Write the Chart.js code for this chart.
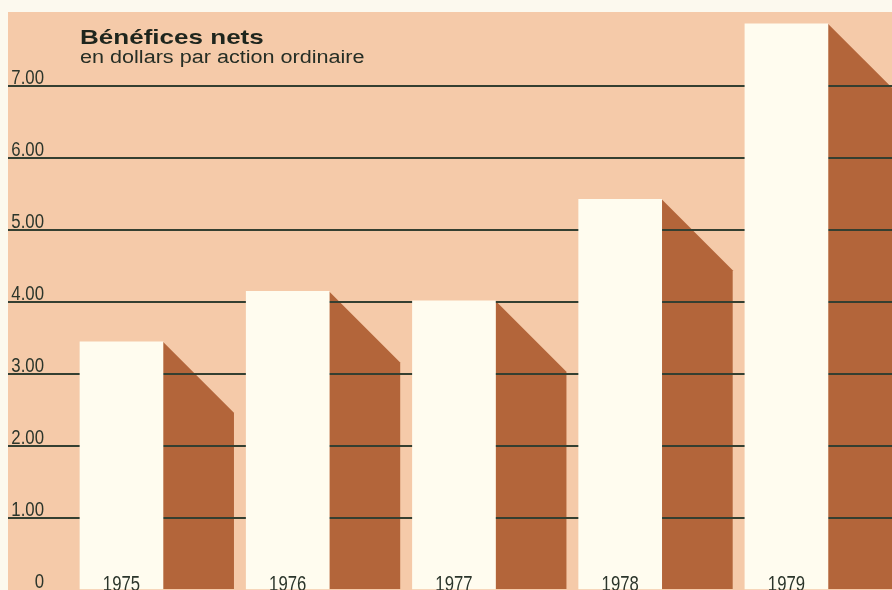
<!DOCTYPE html>
<html lang="fr">
<head>
<meta charset="utf-8">
<title>Bénéfices nets</title>
<script src="https://cdn.jsdelivr.net/npm/chart.js@4.4.1/dist/chart.umd.min.js"></script>
<style>
  html, body { margin:0; padding:0; background:#fcf9ee; }
  #wrap { position:relative; width:892px; height:590px; overflow:hidden; }
  #chart { position:absolute; left:0; top:0; }
  .title, .subtitle { position:absolute; left:80px; white-space:nowrap; transform-origin:0 0; font-family:'Liberation Sans', Arial, sans-serif; }
  .title { top:27px; font-weight:bold; font-size:20.5px; line-height:20px; transform:scaleX(1.27); color:#1e251d; }
  .subtitle { top:48px; font-size:18px; line-height:18px; transform:scaleX(1.2); color:#262e25; }
</style>
</head>
<body>
<div id="wrap">
  <canvas id="chart" width="892" height="590"></canvas>
  <div class="title">Bénéfices nets</div>
  <div class="subtitle">en dollars par action ordinaire</div>
</div>
<script>
// data
const years = ['1975', '1976', '1977', '1978', '1979'];
const earnings = [3.45, 4.15, 4.02, 5.43, 7.87];
const yTickValues = [0, 1, 2, 3, 4, 5, 6, 7];

const PEACH = '#f5caa9';
const SHADOW = '#b3653a';
const CREAM = '#fffcef';
const LINE = '#343f31';
const INK = '#2b352b';
const FONT = "'Liberation Sans', Arial, sans-serif";

// peach panel + the slanted brown shadow right of every bar (under the grid lines)
const backdrop = {
  id: 'backdrop',
  beforeDraw(chart){
    const ctx = chart.ctx;
    ctx.save();
    ctx.fillStyle = PEACH;
    ctx.fillRect(8, 12, chart.width - 8, chart.height - 12);
    ctx.fillStyle = SHADOW;
    const depth = 71;
    chart.getDatasetMeta(0).data.forEach(bar => {
      const right = bar.x + bar.width / 2;
      ctx.beginPath();
      ctx.moveTo(right, bar.y);
      ctx.lineTo(right + depth, bar.y + depth);
      ctx.lineTo(right + depth, bar.base);
      ctx.lineTo(right, bar.base);
      ctx.closePath();
      ctx.fill();
    });
    ctx.restore();
  }
};

// condensed number labels: value labels sit on their grid line, years at the foot of the bars
function narrowText(ctx, txt, x, y, squeeze){
  ctx.save();
  ctx.translate(x, y);
  ctx.scale(squeeze, 1);
  ctx.fillText(txt, 0, 0);
  ctx.restore();
}

const labels = {
  id: 'labels',
  afterDatasetsDraw(chart){
    const ctx = chart.ctx;
    const xs = chart.scales.x, ys = chart.scales.y;
    ctx.save();
    ctx.fillStyle = INK;
    ctx.textBaseline = 'alphabetic';

    ctx.font = '19.5px ' + FONT;
    ctx.textAlign = 'right';
    yTickValues.forEach(v => {
      narrowText(ctx, v === 0 ? '0' : v.toFixed(2), 44, ys.getPixelForValue(v) - 2.5, 0.86);
    });

    ctx.font = '22px ' + FONT;
    ctx.textAlign = 'center';
    years.forEach((y, i) => {
      narrowText(ctx, y, xs.getPixelForValue(i), 591, 0.76);
    });
    ctx.restore();
  }
};

new Chart(document.getElementById('chart'), {
  type: 'bar',
  data: {
    datasets: [{
      label: 'Bénéfices nets',
      data: earnings.map((v, i) => ({ x: i, y: v })),
      backgroundColor: CREAM,
      borderWidth: 0,
      barThickness: 83
    }]
  },
  options: {
    responsive: false,
    animation: false,
    layout: { padding: { top: 18, left: 0, right: 0, bottom: 0 } },
    plugins: { legend: { display: false }, tooltip: { enabled: false }, title: { display: false } },
    scales: {
      x: {
        type: 'linear',
        display: false,
        min: -0.466,
        max: 4.635,
        offset: false
      },
      y: {
        position: 'left',
        min: 0,
        max: 7.95,
        afterBuildTicks: s => { s.ticks = yTickValues.map(v => ({ value: v })); },
        afterFit: s => { s.width = 44; },
        border: { display: false },
        grid: {
          color: c => (c.tick && c.tick.value === 0) ? 'rgba(0,0,0,0)' : LINE,
          lineWidth: 2,
          drawTicks: true,
          tickLength: 36
        },
        ticks: { display: false }
      }
    }
  },
  plugins: [backdrop, labels]
});
</script>
</body>
</html>
